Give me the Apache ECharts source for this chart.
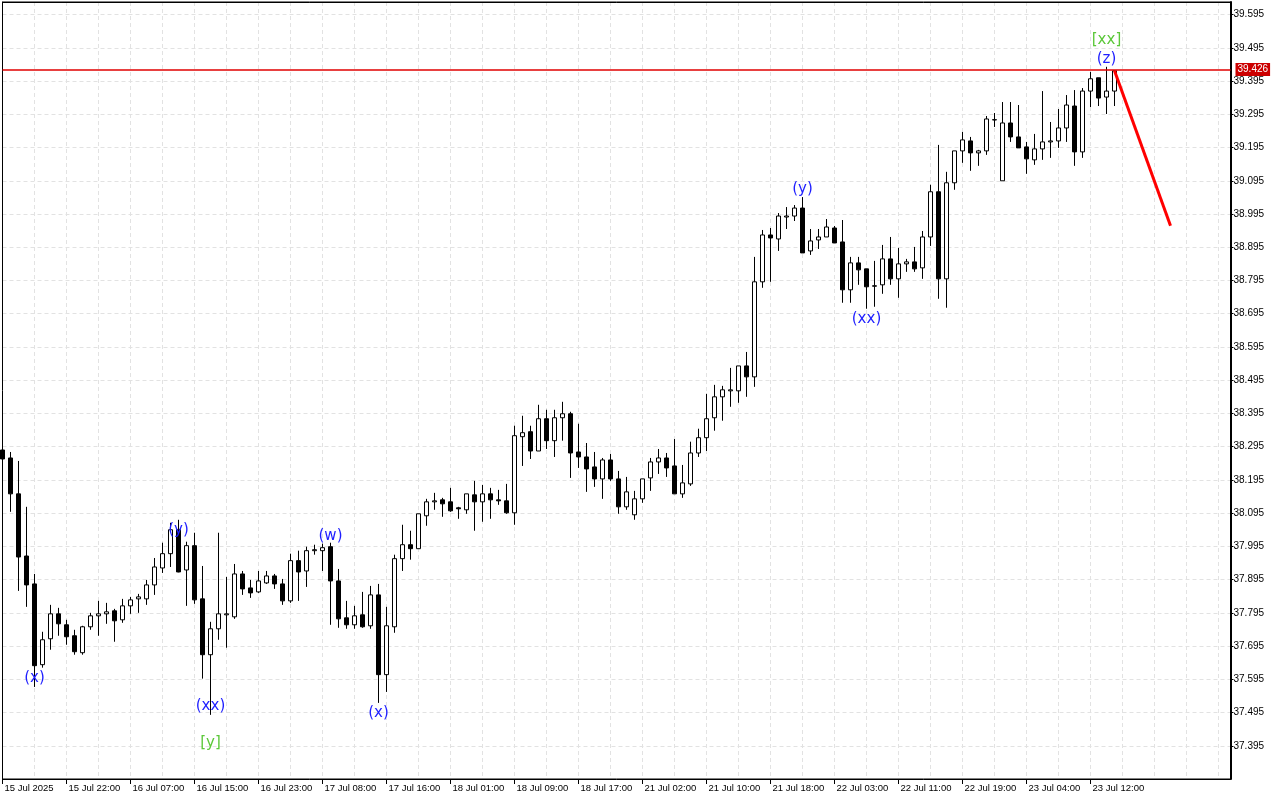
<!DOCTYPE html>
<html><head><meta charset="utf-8">
<script src="https://cdn.jsdelivr.net/npm/echarts@6/dist/echarts.min.js"></script>
<style>html,body{margin:0;padding:0;background:#fff}#c{width:1280px;height:800px}</style>
</head><body><div id="c"></div>
<script>
// ---- data (XAGUSD-like H1 candles) ----
const opens=[38.285,38.261,38.153,37.966,37.882,37.639,37.717,37.792,37.759,37.726,
37.675,37.753,37.786,37.792,37.801,37.774,37.816,37.837,37.837,37.879,
37.930,37.973,38.045,37.924,37.997,37.837,37.669,37.747,37.789,37.783,
37.912,37.870,37.858,37.885,37.906,37.882,37.831,37.952,37.921,37.982,
37.982,37.994,37.891,37.780,37.759,37.789,37.756,37.849,37.609,37.753,
37.958,38.000,37.988,38.087,38.129,38.135,38.129,38.111,38.105,38.150,
38.129,38.153,38.135,38.132,38.096,38.325,38.340,38.282,38.379,38.313,
38.382,38.394,38.279,38.264,38.234,38.198,38.255,38.198,38.114,38.090,
38.138,38.201,38.249,38.261,38.237,38.153,38.183,38.276,38.322,38.382,
38.445,38.463,38.463,38.538,38.505,38.791,38.932,38.920,38.986,38.989,
39.013,38.884,38.917,38.926,38.953,38.911,38.767,38.848,38.830,38.779,
38.782,38.860,38.800,38.845,38.851,38.833,38.926,39.062,38.800,39.089,
39.185,39.215,39.179,39.185,39.278,39.095,39.269,39.227,39.197,39.158,
39.191,39.212,39.215,39.254,39.320,39.182,39.365,39.405,39.347,39.365];
const closes=[38.258,38.153,37.963,37.879,37.636,37.714,37.792,37.762,37.723,37.678,
37.753,37.786,37.792,37.798,37.771,37.816,37.834,37.843,37.879,37.933,
37.973,38.045,37.918,37.997,37.834,37.669,37.747,37.792,37.792,37.912,
37.867,37.855,37.891,37.906,37.882,37.831,37.952,37.918,37.982,37.985,
37.991,37.891,37.777,37.759,37.786,37.753,37.849,37.609,37.756,37.958,
38.000,37.988,38.093,38.129,38.132,38.123,38.102,38.108,38.153,38.129,
38.153,38.135,38.132,38.096,38.328,38.337,38.282,38.379,38.313,38.382,
38.394,38.276,38.264,38.228,38.198,38.255,38.198,38.114,38.159,38.138,
38.198,38.249,38.261,38.231,38.153,38.186,38.276,38.322,38.379,38.445,
38.466,38.466,38.538,38.505,38.791,38.932,38.923,38.989,38.989,39.013,
38.878,38.914,38.926,38.956,38.908,38.767,38.848,38.827,38.776,38.778,
38.860,38.800,38.845,38.851,38.830,38.926,39.062,38.800,39.089,39.185,
39.218,39.179,39.185,39.281,39.279,39.269,39.227,39.194,39.161,39.191,
39.212,39.215,39.254,39.323,39.182,39.365,39.402,39.344,39.365,39.426];
const lows=[38.240,38.099,37.861,37.813,37.572,37.630,37.684,37.726,37.699,37.669,
37.669,37.744,37.726,37.762,37.708,37.765,37.792,37.795,37.819,37.849,
37.915,37.933,37.917,37.816,37.822,37.597,37.488,37.714,37.690,37.777,
37.849,37.840,37.855,37.882,37.867,37.819,37.825,37.831,37.873,37.970,
37.921,37.759,37.750,37.747,37.747,37.750,37.747,37.524,37.557,37.735,
37.921,37.955,37.988,38.057,38.105,38.084,38.099,38.078,38.093,38.042,
38.069,38.078,38.120,38.093,38.060,38.237,38.258,38.282,38.288,38.264,
38.313,38.201,38.231,38.159,38.174,38.138,38.192,38.093,38.105,38.075,
38.126,38.162,38.213,38.204,38.153,38.141,38.177,38.264,38.282,38.343,
38.373,38.415,38.427,38.445,38.475,38.773,38.791,38.884,38.950,38.974,
38.878,38.872,38.890,38.926,38.908,38.728,38.728,38.782,38.710,38.716,
38.755,38.782,38.743,38.821,38.821,38.800,38.899,38.740,38.713,39.068,
39.149,39.125,39.140,39.173,39.257,39.095,39.212,39.194,39.116,39.143,
39.158,39.164,39.194,39.212,39.140,39.164,39.317,39.320,39.296,39.320];
const highs=[38.297,38.279,38.252,38.114,37.912,37.738,37.819,37.810,37.774,37.744,
37.756,37.795,37.831,37.825,37.807,37.837,37.843,37.852,37.894,37.960,
38.006,38.066,38.075,38.009,38.036,37.936,37.768,38.036,37.903,37.942,
37.921,37.894,37.921,37.921,37.912,37.897,37.973,37.982,37.994,38.000,
38.003,38.006,37.927,37.831,37.816,37.858,37.876,37.882,37.813,37.970,
38.060,38.042,38.093,38.138,38.156,38.141,38.171,38.114,38.153,38.192,
38.180,38.171,38.165,38.183,38.358,38.388,38.358,38.421,38.406,38.406,
38.430,38.400,38.364,38.306,38.279,38.261,38.273,38.222,38.204,38.162,
38.198,38.261,38.288,38.276,38.318,38.240,38.310,38.349,38.454,38.481,
38.478,38.532,38.538,38.580,38.866,38.947,38.953,38.998,39.016,39.022,
39.046,38.950,38.950,38.980,38.959,38.977,38.866,38.866,38.830,38.854,
38.902,38.926,38.893,38.860,38.896,38.944,39.083,39.203,39.122,39.185,
39.242,39.227,39.188,39.290,39.299,39.332,39.332,39.323,39.212,39.236,
39.365,39.272,39.311,39.353,39.368,39.374,39.423,39.405,39.438,39.426];

const timeLabels=["15 Jul 2025","15 Jul 22:00","16 Jul 07:00","16 Jul 15:00","16 Jul 23:00",
"17 Jul 08:00","17 Jul 16:00","18 Jul 01:00","18 Jul 09:00","18 Jul 17:00","21 Jul 02:00",
"21 Jul 10:00","21 Jul 18:00","22 Jul 03:00","22 Jul 11:00","22 Jul 19:00","23 Jul 04:00","23 Jul 12:00"];
const labelBars=[0,8,16,24,32,40,48,56,64,72,80,88,96,104,112,120,128,136];

const lastPrice=39.426;
const forecastX=[139,146];
const forecastY=[39.426,38.960];

const waveText=["(x)","(y)","(xx)","[y]","(w)","(x)","(y)","(xx)","[xx]","(z)"];
const waveX=[4,22,26,26,41,47,100,108,138,138];
const waveY=[37.600,38.045,37.515,37.404,38.027,37.494,39.071,38.680,39.519,39.462];
const waveColor=["#1f1fff","#1f1fff","#1f1fff","#5cc83a","#1f1fff","#1f1fff","#1f1fff","#1f1fff","#5cc83a","#1f1fff"];

// ---- build ----
const candles=opens.map((o,i)=>[i,o,closes[i],lows[i],highs[i]]);
const forecast=forecastX.map((x,i)=>[x,forecastY[i]]);
const waves=waveText.map((t,i)=>({name:t,value:[waveX[i],waveY[i]],label:{color:waveColor[i]}}));

const chart=echarts.init(document.getElementById('c'),null,{renderer:'canvas'});
const gridColor='#e2e2e2';
const hlineColor='#e00000';
const X_MIN=0, X_MAX=153.5, Y_MIN=37.295, Y_MAX=39.633;
chart.setOption({
  animation:false,
  backgroundColor:'#fff',
  textStyle:{fontFamily:'Liberation Sans'},
  grid:{left:2.5,right:49.5,top:2,bottom:21,show:true,borderColor:'#000',borderWidth:1,backgroundColor:'#fff'},
  xAxis:[
    {type:'value',min:X_MIN,max:X_MAX,interval:4,
     axisLine:{show:false},axisTick:{show:false},axisLabel:{show:false},
     splitLine:{show:true,lineStyle:{color:gridColor,type:[4,3],width:1}}},
    {type:'value',position:'bottom',min:X_MIN,max:X_MAX,interval:8,
     axisLine:{show:true,onZero:false,lineStyle:{color:'#000',width:1}},
     axisTick:{show:true,length:5,customValues:labelBars,lineStyle:{color:'#000'}},
     axisLabel:{show:true,customValues:labelBars,
       formatter:v=>{const k=labelBars.indexOf(v);return k>=0?timeLabels[k]:'';},
       align:'left',fontSize:9.5,color:'#000',margin:4,padding:[0,0,0,2],fontFamily:'Liberation Sans'},
     splitLine:{show:false}},
    {type:'value',position:'top',min:X_MIN,max:X_MAX,
     axisLine:{show:true,onZero:false,lineStyle:{color:'#000',width:1}},
     axisTick:{show:false},axisLabel:{show:false},splitLine:{show:false}}
  ],
  yAxis:[
    {type:'value',position:'right',min:Y_MIN,max:Y_MAX,interval:0.1,
    axisLine:{show:true,onZero:false,lineStyle:{color:'#000',width:2}},
    axisTick:{show:true,length:3,lineStyle:{color:'#000'}},
    axisLabel:{formatter:v=>v.toFixed(3),fontSize:10,color:'#000',margin:3,
      showMinLabel:false,showMaxLabel:false,fontFamily:'Liberation Sans'},
    splitLine:{show:true,lineStyle:{color:gridColor,type:[4,3],width:1}}},
    {type:'value',position:'left',min:Y_MIN,max:Y_MAX,
    axisLine:{show:true,onZero:false,lineStyle:{color:'#000',width:1}},
    axisTick:{show:false},axisLabel:{show:false},splitLine:{show:false}}
  ],
  series:[
    {type:'candlestick',xAxisIndex:0,yAxisIndex:0,data:candles,barWidth:4,
     itemStyle:{color:'#fff',color0:'#000',borderColor:'#000',borderColor0:'#000',borderWidth:1}},
    {type:'line',xAxisIndex:0,yAxisIndex:0,data:forecast,symbol:'none',color:'#ff0000',
     lineStyle:{color:'#ff0000',width:3},z:5,
     markLine:{symbol:'none',silent:true,animation:false,z:4,
       lineStyle:{color:hlineColor,width:1.5,type:'solid',opacity:1},
       data:[{yAxis:lastPrice}],
       label:{show:true,position:'end',distance:5,formatter:lastPrice.toFixed(3),
         backgroundColor:'#cc0000',color:'#fff',fontSize:10,padding:[2,2,1,2],fontFamily:'Liberation Sans'}}},
    {type:'scatter',xAxisIndex:0,yAxisIndex:0,data:waves,symbolSize:1,itemStyle:{color:'rgba(0,0,0,0)',opacity:1},
     label:{show:true,position:'inside',formatter:p=>p.name,fontSize:15,fontFamily:'DejaVu Sans'},z:6}
  ]
});
</script></body></html>
